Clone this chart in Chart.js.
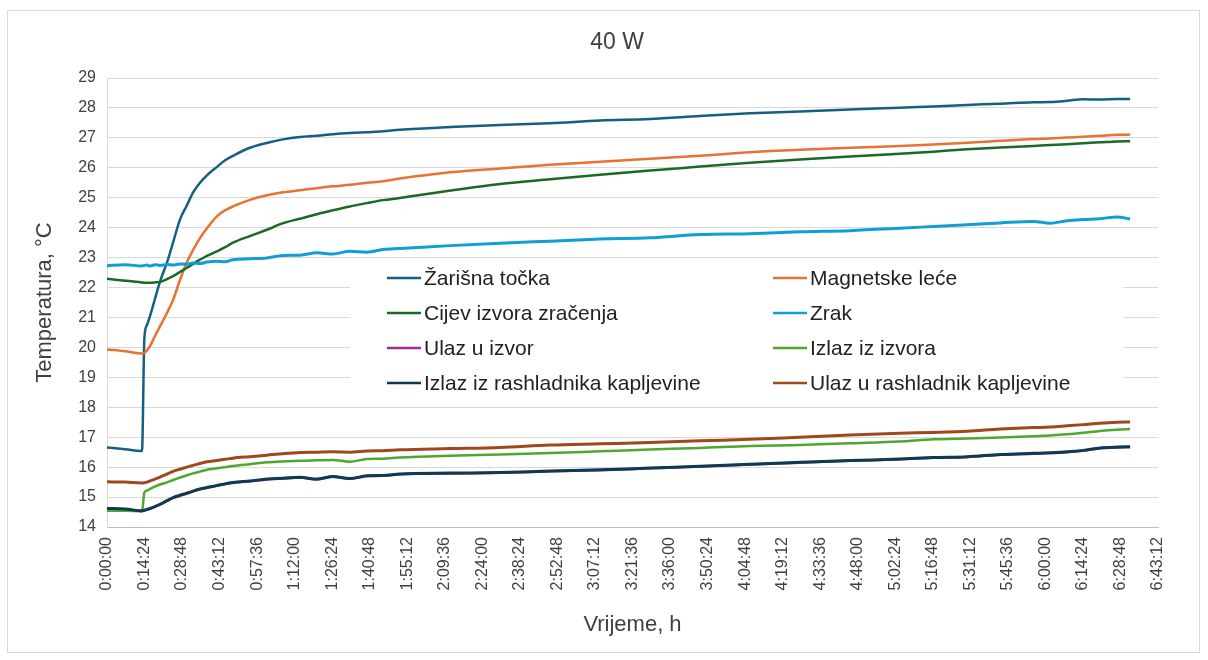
<!DOCTYPE html>
<html>
<head>
<meta charset="utf-8">
<script src="https://cdn.jsdelivr.net/npm/chart.js@4.4.1/dist/chart.umd.min.js"></script>
<style>
  html, body { margin: 0; padding: 0; background: #fff; }
  #chart { display: block; }
</style>
</head>
<body>
<canvas id="chart" width="1208" height="660"></canvas>
<script>
// time since start of measurement, seconds
const times = [0, 420, 806, 860, 920, 990, 1100, 1220, 1380, 1520, 1680, 1840, 1980, 2140, 2300, 2530,
  2720, 2900, 3290, 3680, 4050, 4440, 4830, 5200, 5590, 5980, 6350, 6740, 7900, 9050, 10200, 11350,
  12500, 13650, 14800, 15950, 17100, 18250, 19020, 19800, 20560, 21320, 21710, 22100, 22470, 22860, 23250, 23550];

const xTickLabels = ['0:00:00', '0:14:24', '0:28:48', '0:43:12', '0:57:36', '1:12:00', '1:26:24', '1:40:48',
  '1:55:12', '2:09:36', '2:24:00', '2:38:24', '2:52:48', '3:07:12', '3:21:36', '3:36:00', '3:50:24',
  '4:04:48', '4:19:12', '4:33:36', '4:48:00', '5:02:24', '5:16:48', '5:31:12', '5:45:36', '6:00:00',
  '6:14:24', '6:28:48', '6:43:12'];

const zarisnaTocka = [16.66, 16.60, 16.54, 20.30, 20.75, 21.05, 21.60, 22.20, 22.83, 23.50, 24.27, 24.75, 25.17, 25.50, 25.75, 26.03,
  26.25, 26.40, 26.67, 26.83, 26.95, 27.03, 27.07, 27.12, 27.16, 27.19, 27.22, 27.27, 27.36, 27.43, 27.49, 27.58,
  27.63, 27.73, 27.82, 27.88, 27.95, 28.01, 28.05, 28.10, 28.14, 28.19, 28.20, 28.24, 28.29, 28.28, 28.30, 28.30];
const magnetskeLece = [19.93, 19.87, 19.80, 19.82, 19.90, 20.04, 20.37, 20.70, 21.15, 21.58, 22.25, 22.85, 23.25, 23.65, 23.98, 24.38,
  24.58, 24.71, 24.93, 25.08, 25.18, 25.25, 25.32, 25.38, 25.43, 25.50, 25.55, 25.64, 25.85, 25.98, 26.10, 26.20,
  26.30, 26.40, 26.52, 26.60, 26.67, 26.73, 26.78, 26.84, 26.90, 26.96, 26.98, 27.01, 27.04, 27.07, 27.10, 27.11];
const cijevIzvora = [22.29, 22.23, 22.17, 22.16, 22.16, 22.16, 22.17, 22.19, 22.28, 22.38, 22.52, 22.66, 22.79, 22.93, 23.06, 23.21,
  23.35, 23.50, 23.72, 23.93, 24.15, 24.30, 24.45, 24.58, 24.71, 24.82, 24.92, 24.99, 25.24, 25.46, 25.62, 25.77,
  25.91, 26.04, 26.17, 26.28, 26.38, 26.47, 26.54, 26.62, 26.68, 26.73, 26.76, 26.79, 26.82, 26.85, 26.88, 26.89];
const zrak = [22.73, 22.76, 22.72, 22.74, 22.75, 22.72, 22.76, 22.74, 22.77, 22.75, 22.79, 22.78, 22.82, 22.80, 22.85, 22.88,
  22.86, 22.93, 22.96, 22.99, 23.07, 23.08, 23.16, 23.12, 23.21, 23.18, 23.27, 23.30, 23.40, 23.48, 23.55, 23.62,
  23.66, 23.77, 23.80, 23.86, 23.90, 23.98, 24.04, 24.10, 24.16, 24.21, 24.15, 24.23, 24.27, 24.30, 24.36, 24.29];
const ulazUIzvor = [14.60, 14.58, 14.53, 14.55, 14.58, 14.61, 14.67, 14.75, 14.87, 14.97, 15.05, 15.12, 15.19, 15.26, 15.31, 15.38,
  15.43, 15.48, 15.53, 15.59, 15.62, 15.65, 15.59, 15.68, 15.61, 15.70, 15.71, 15.76, 15.79, 15.81, 15.86, 15.90,
  15.96, 16.02, 16.09, 16.15, 16.21, 16.26, 16.31, 16.34, 16.41, 16.45, 16.47, 16.50, 16.55, 16.63, 16.66, 16.67];
const izlazIzIzvora = [14.54, 14.54, 14.53, 15.15, 15.22, 15.27, 15.35, 15.42, 15.49, 15.57, 15.65, 15.73, 15.79, 15.85, 15.91, 15.96,
  16.00, 16.04, 16.10, 16.16, 16.19, 16.21, 16.23, 16.24, 16.18, 16.27, 16.28, 16.32, 16.38, 16.42, 16.47, 16.53,
  16.59, 16.64, 16.71, 16.74, 16.80, 16.86, 16.93, 16.96, 16.99, 17.03, 17.06, 17.10, 17.15, 17.21, 17.25, 17.27];
const izlazIzRashladnika = [14.62, 14.60, 14.54, 14.56, 14.59, 14.62, 14.68, 14.76, 14.88, 14.98, 15.06, 15.13, 15.20, 15.27, 15.32, 15.39,
  15.44, 15.49, 15.54, 15.60, 15.63, 15.66, 15.60, 15.69, 15.62, 15.71, 15.72, 15.77, 15.80, 15.82, 15.87, 15.91,
  15.97, 16.03, 16.10, 16.16, 16.22, 16.27, 16.32, 16.35, 16.42, 16.46, 16.48, 16.51, 16.56, 16.64, 16.67, 16.68];
const ulazURashladnik = [15.51, 15.50, 15.47, 15.48, 15.50, 15.54, 15.60, 15.67, 15.77, 15.86, 15.93, 16.00, 16.06, 16.12, 16.18, 16.22,
  16.26, 16.30, 16.35, 16.40, 16.45, 16.49, 16.50, 16.51, 16.50, 16.54, 16.55, 16.58, 16.62, 16.66, 16.74, 16.78,
  16.82, 16.88, 16.93, 17.00, 17.07, 17.13, 17.16, 17.20, 17.27, 17.32, 17.34, 17.38, 17.42, 17.47, 17.50, 17.51];

const seriesNames = ['Žarišna točka', 'Magnetske leće', 'Cijev izvora zračenja', 'Zrak', 'Ulaz u izvor',
  'Izlaz iz izvora', 'Izlaz iz rashladnika kapljevine', 'Ulaz u rashladnik kapljevine'];
const seriesValues = [zarisnaTocka, magnetskeLece, cijevIzvora, zrak, ulazUIzvor, izlazIzIzvora, izlazIzRashladnika, ulazURashladnik];
const seriesColors = ['#156082', '#E97132', '#196B24', '#0F9ED5', '#A02B93', '#4EA72E', '#0E3A52', '#A0481C'];
// noisy sensors look a bit thicker in the original
const seriesWidths = [2.5, 2.5, 2.5, 3, 2.5, 2.5, 3, 3];

const toSec = (s) => {
  const [h, m, sec] = s.split(':').map(Number);
  return h * 3600 + m * 60 + sec;
};
const xTickValues = xTickLabels.map(toSec);

const datasets = seriesNames.map((name, i) => ({
  label: name,
  data: times.map((t, j) => ({ x: t, y: seriesValues[i][j] })),
  borderColor: seriesColors[i],
  backgroundColor: seriesColors[i],
  borderWidth: seriesWidths[i],
  pointRadius: 0,
  cubicInterpolationMode: 'monotone',
  order: seriesNames.length - i, // later series on top, like Excel
}));

// white background, outer frame and title
const framePlugin = {
  id: 'frame',
  beforeDraw(chart) {
    const ctx = chart.ctx;
    ctx.save();
    ctx.fillStyle = '#fff';
    ctx.fillRect(0, 0, chart.width, chart.height);
    ctx.strokeStyle = '#D9D9D9';
    ctx.lineWidth = 1;
    ctx.strokeRect(7.5, 10.5, 1192, 642);
    ctx.fillStyle = '#404040';
    ctx.font = '23px "Liberation Sans", Arial, sans-serif';
    ctx.textAlign = 'center';
    ctx.textBaseline = 'middle';
    ctx.fillText('40 W', 617, 43);
    ctx.restore();
  }
};

// legend inside the plot area, 2 columns
const innerLegend = {
  id: 'innerLegend',
  afterDatasetsDraw(chart) {
    const ctx = chart.ctx;
    ctx.save();
    ctx.fillStyle = '#fff';
    ctx.fillRect(350, 261, 773, 141);
    ctx.font = '21px "Liberation Sans", Arial, sans-serif';
    ctx.textBaseline = 'middle';
    ctx.textAlign = 'left';
    const cols = [387, 773];
    chart.data.datasets.forEach((ds, i) => {
      const x = cols[i % 2];
      const y = 278 + Math.floor(i / 2) * 35;
      ctx.strokeStyle = ds.borderColor;
      ctx.lineWidth = 2.5;
      ctx.beginPath();
      ctx.moveTo(x, y);
      ctx.lineTo(x + 34, y);
      ctx.stroke();
      ctx.fillStyle = '#222';
      ctx.fillText(ds.label, x + 37, y + 1);
    });
    ctx.restore();
  }
};

new Chart(document.getElementById('chart'), {
  type: 'line',
  data: { datasets },
  options: {
    responsive: false,
    animation: false,
    devicePixelRatio: 1,
    layout: { padding: { top: 78, left: 8, right: 50, bottom: 8 } },
    plugins: {
      legend: { display: false },
      tooltip: { enabled: false },
    },
    scales: {
      x: {
        type: 'linear',
        min: 0,
        max: xTickValues[xTickValues.length - 1],
        afterBuildTicks: (scale) => { scale.ticks = xTickValues.map(v => ({ value: v })); },
        afterFit: (scale) => { scale.height = 660 - 527 - 8; },
        grid: { display: false, drawTicks: false },
        border: { display: true, color: '#BFBFBF', width: 1 },
        ticks: {
          autoSkip: false,
          minRotation: 90,
          maxRotation: 90,
          padding: 10,
          color: '#404040',
          font: { family: '"Liberation Sans", Arial, sans-serif', size: 16 },
          callback: (v) => xTickLabels[xTickValues.indexOf(v)],
        },
        title: {
          display: true,
          text: 'Vrijeme, h',
          color: '#404040',
          font: { family: '"Liberation Sans", Arial, sans-serif', size: 22 },
          padding: { top: 0, bottom: 14 },
        },
      },
      y: {
        min: 14,
        max: 29,
        afterFit: (scale) => { scale.width = 107 - 8; },
        grid: { color: '#D9D9D9', lineWidth: 1, drawTicks: false },
        border: { display: true, color: '#D9D9D9', width: 1 },
        ticks: {
          stepSize: 1,
          padding: 11,
          color: '#404040',
          font: { family: '"Liberation Sans", Arial, sans-serif', size: 16 },
        },
        title: {
          display: true,
          text: 'Temperatura, °C',
          color: '#404040',
          font: { family: '"Liberation Sans", Arial, sans-serif', size: 22 },
          padding: { top: 24, bottom: 0 },
        },
      },
    },
  },
  plugins: [framePlugin, innerLegend],
});
</script>
</body>
</html>
